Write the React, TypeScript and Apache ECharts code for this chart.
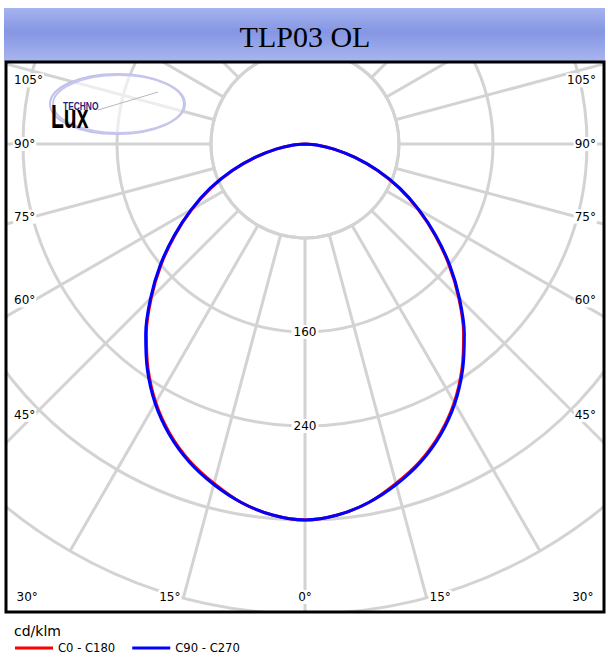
import React, { useEffect, useRef } from "react";
import * as echarts from "echarts";

// ---- data ----
const gammaAngles = [0, 5, 10, 15, 20, 25, 30, 35, 40, 45, 50, 55, 60, 65, 70, 75, 80, 85, 90];
const c0c180Values = [320, 317, 310, 299, 287, 272, 254, 233, 210, 185, 160, 135, 111, 88, 65, 44, 25, 10, 0];
const c90c270Values = [320, 317, 310, 300, 288, 273, 255, 234, 211, 186, 161, 136, 112, 89, 66, 44, 25, 10, 0];
const seriesNames = ["C0 - C180", "C90 - C270"];
const seriesColors = ["#ff0000", "#0000ff"];
const radiusLabelsShown = [160, 240];
const sideAngleLabels = [45, 60, 75, 90, 105];
const bottomAngleLabels = [0, 15, 30];
const titleText = "TLP03 OL";
const unitText = "cd/klm";

// ---- layout ----
const CX = 305;
const CY = 144;
const R_MAX = 470;
const GRID = "#d3d3d3";
const LABEL_FONT = '12px "DejaVu Sans"';

function toPolar(values: number[]) {
  const pts: number[][] = [];
  for (let i = gammaAngles.length - 1; i >= 0; i--) pts.push([values[i], 360 - gammaAngles[i]]);
  for (let i = 1; i < gammaAngles.length; i++) pts.push([values[i], gammaAngles[i]]);
  return pts;
}

function angleLabelGraphics() {
  const out: any[] = [];
  const rad = (a: number) => (a * Math.PI) / 180;
  const d = CX - 34;
  const base = { font: LABEL_FONT, fill: "#000", backgroundColor: "#fff", padding: [1, 1] };
  sideAngleLabels.forEach((a) => {
    const off = a === 90 ? 0 : d / Math.tan(rad(a));
    const y = CY + off;
    const va = a > 90 ? "top" : "middle";
    const yy = a > 90 ? y + 2 : y;
    out.push({ type: "text", z: 8, style: { ...base, text: a + "°", x: 13, y: yy, align: "left", verticalAlign: va } });
    out.push({ type: "text", z: 8, style: { ...base, text: a + "°", x: 2 * CX - 13, y: yy, align: "right", verticalAlign: va } });
  });
  bottomAngleLabels.forEach((a) => {
    const off = (605 - CY) * Math.tan(rad(a));
    if (a === 0) {
      out.push({ type: "text", z: 8, style: { ...base, text: a + "°", x: CX, y: 597, align: "center", verticalAlign: "middle" } });
    } else {
      out.push({ type: "text", z: 8, style: { ...base, text: a + "°", x: CX - off, y: 597, align: "right", verticalAlign: "middle" } });
      out.push({ type: "text", z: 8, style: { ...base, text: a + "°", x: CX + off, y: 597, align: "left", verticalAlign: "middle" } });
    }
  });
  return out;
}

export default function App() {
  const ref = useRef<HTMLDivElement>(null);
  useEffect(() => {
    if (!ref.current) return;
    const chart = echarts.init(ref.current, null, { renderer: "svg" });
    const option: any = {
      animation: false,
      backgroundColor: "#fff",
      polar: { center: [CX, CY], radius: R_MAX },
      angleAxis: {
        type: "value", min: 0, max: 360, interval: 15, startAngle: 270, clockwise: false, z: 0,
        axisLine: { show: false }, axisTick: { show: false }, axisLabel: { show: false },
        splitLine: { show: true, lineStyle: { color: GRID, width: 3 } },
      },
      radiusAxis: {
        type: "value", min: 0, max: 400, interval: 80, z: 2,
        axisLine: { show: false }, axisTick: { show: false },
        splitLine: { show: true, lineStyle: { color: GRID, width: 3 } },
        axisLabel: {
          margin: 0, align: "center", verticalAlign: "middle",
          formatter: (v: number) => (radiusLabelsShown.indexOf(v) >= 0 ? "{b|" + v + "}" : ""),
          rich: { b: { backgroundColor: "#fff", padding: [1, 2], fontSize: 12, fontFamily: "DejaVu Sans", color: "#000" } },
        },
      },
      legend: {
        left: 10, top: 637, z: 10, icon: "rect", itemWidth: 38, itemHeight: 3, itemGap: 17,
        textStyle: { fontSize: 11.6, fontFamily: "DejaVu Sans", color: "#000" },
        data: seriesNames,
      },
      series: [
        {
          name: seriesNames[0], type: "line", coordinateSystem: "polar", z: 3,
          data: toPolar(c0c180Values), showSymbol: false, symbol: "none", smooth: 0.33,
          lineStyle: { color: seriesColors[0], width: 3 }, itemStyle: { color: seriesColors[0] },
        },
        {
          name: seriesNames[1], type: "line", coordinateSystem: "polar", z: 4,
          data: toPolar(c90c270Values), showSymbol: false, symbol: "none", smooth: 0.33,
          lineStyle: { color: seriesColors[1], width: 3 }, itemStyle: { color: seriesColors[1] },
        },
      ],
      graphic: [
        // inner white circle (spokes start outside it)
        { type: "circle", z: 1, shape: { cx: CX, cy: CY, r: 94 }, style: { fill: "#fff", stroke: GRID, lineWidth: 3 } },
        // logo
        { type: "ellipse", z: 5, shape: { cx: 117, cy: 104, rx: 67, ry: 30 }, style: { fill: "rgba(255,255,255,0.6)", stroke: "#c0c0ea", lineWidth: 2 } },
        { type: "ellipse", z: 5, shape: { cx: 119, cy: 104, rx: 66, ry: 29 }, style: { fill: "none", stroke: "#c6c6ee", lineWidth: 2 } },
        { type: "line", z: 5, shape: { x1: 98, y1: 110, x2: 158, y2: 92 }, style: { stroke: "#b8b8b8", lineWidth: 1 } },
        { type: "text", z: 5, x: 63, y: 101, scaleX: 0.8, style: { text: "TECHNO", x: 0, y: 0, font: 'bold 10.5px "Liberation Sans"', fill: "#23237c", verticalAlign: "top" } },
        {
          type: "text", z: 5, x: 51, y: 133, scaleX: 0.62,
          style: {
            text: "Lux", x: 0, y: 0, font: 'bold 34px "Liberation Sans"', verticalAlign: "bottom",
            fill: { type: "linear", x: 0, y: 0, x2: 0, y2: 1, colorStops: [{ offset: 0, color: "#e0e0e0" }, { offset: 0.45, color: "#888" }, { offset: 0.8, color: "#222" }, { offset: 1, color: "#111" }] },
          },
        },
        // covers outside the frame
        { type: "rect", z: 6, shape: { x: 0, y: 0, width: 608, height: 8 }, style: { fill: "#fff" } },
        { type: "rect", z: 6, shape: { x: 0, y: 0, width: 5, height: 672 }, style: { fill: "#fff" } },
        { type: "rect", z: 6, shape: { x: 605, y: 0, width: 3, height: 672 }, style: { fill: "#fff" } },
        { type: "rect", z: 6, shape: { x: 0, y: 613, width: 608, height: 59 }, style: { fill: "#fff" } },
        // title bar
        {
          type: "rect", z: 7, shape: { x: 4, y: 8, width: 601, height: 53 },
          style: { fill: { type: "linear", x: 0, y: 0, x2: 0, y2: 1, colorStops: [{ offset: 0, color: "#a5b3ee" }, { offset: 0.45, color: "#8596e3" }, { offset: 1, color: "#a8b5ee" }] } },
        },
        { type: "text", z: 8, style: { text: titleText, x: CX, y: 36, align: "center", verticalAlign: "middle", font: '30px "Liberation Serif"', fill: "#000" } },
        // frame
        { type: "rect", z: 9, shape: { x: 6, y: 62, width: 598, height: 550 }, style: { fill: "none", stroke: "#000", lineWidth: 3 } },
        // unit
        { type: "text", z: 10, style: { text: unitText, x: 14, y: 631, align: "left", verticalAlign: "middle", font: '14px "DejaVu Sans"', fill: "#000" } },
        ...angleLabelGraphics(),
      ],
    };
    chart.setOption(option);
    return () => chart.dispose();
  }, []);
  return <div ref={ref} style={{ position: "fixed", left: 0, top: 0, width: 608, height: 672 }} />;
}
